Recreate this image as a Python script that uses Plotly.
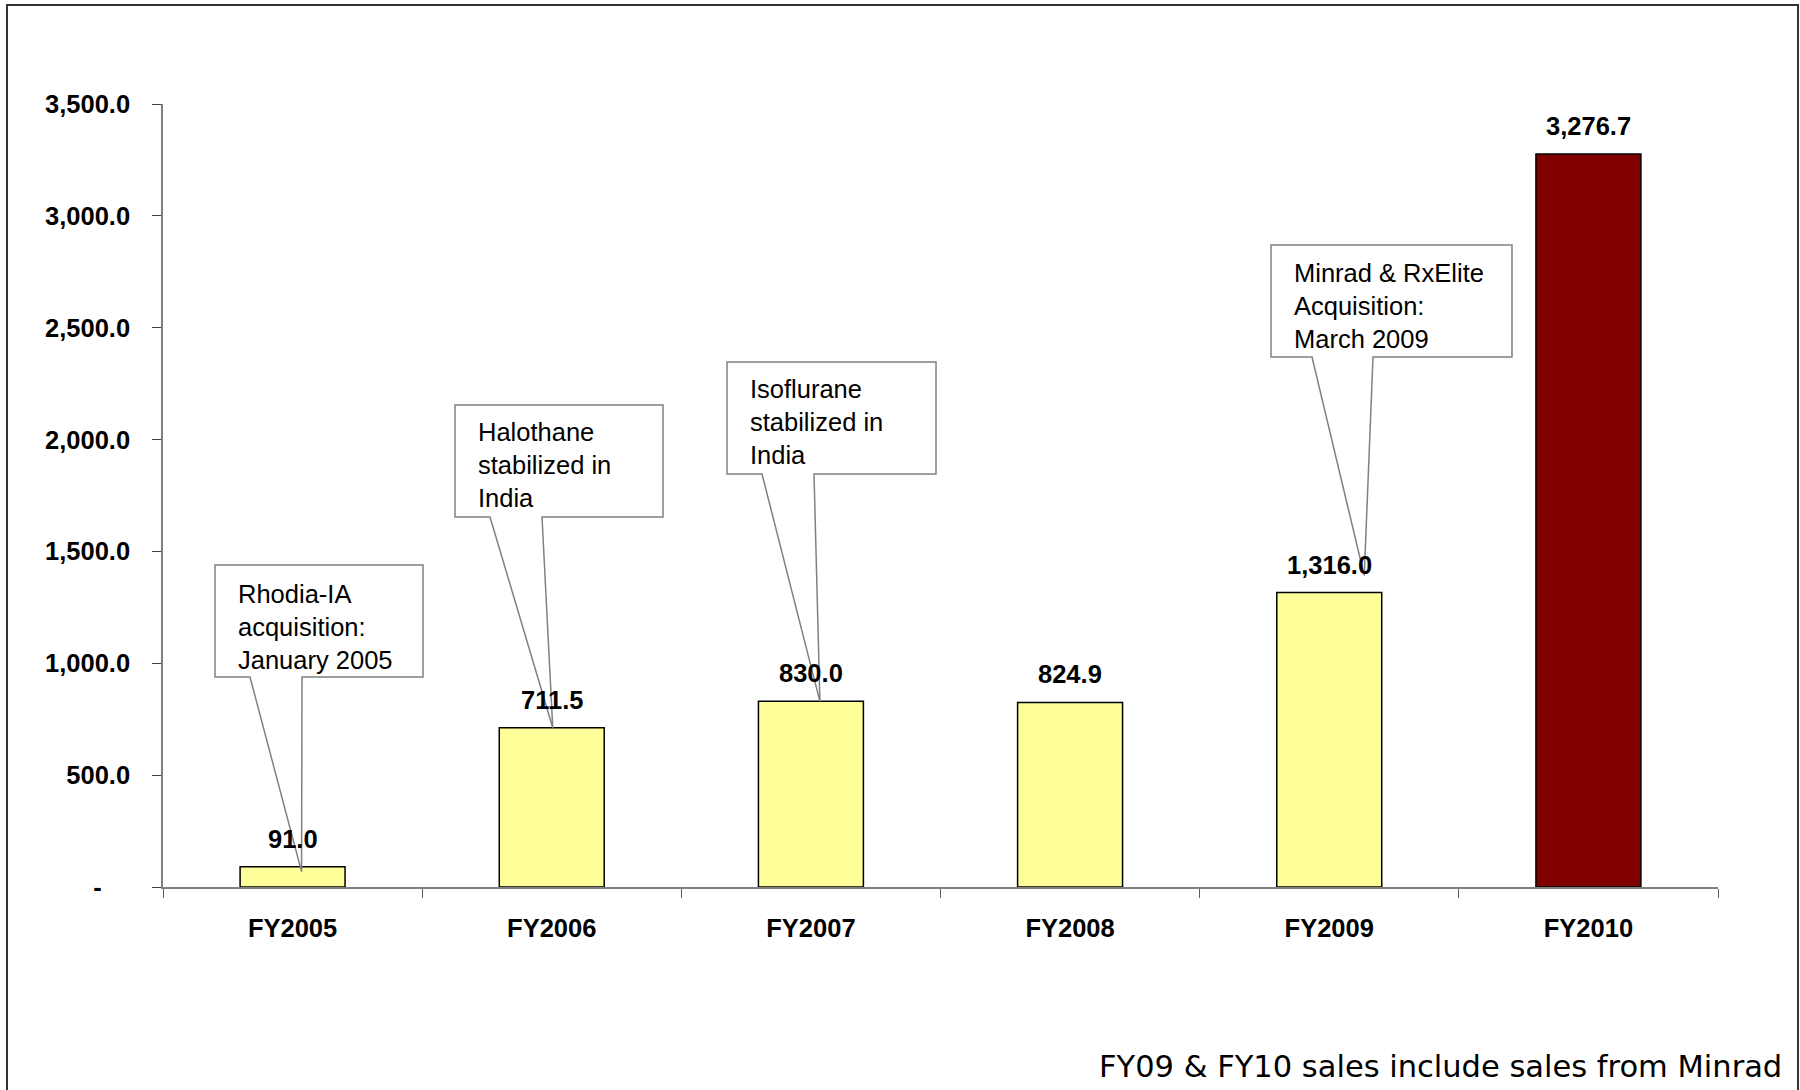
import plotly.graph_objects as go

# ---------------- data ----------------
categories = ["FY2005", "FY2006", "FY2007", "FY2008", "FY2009", "FY2010"]
sales = [91.0, 711.5, 830.0, 824.9, 1316.0, 3276.7]
bar_colors = ["#FFFF99", "#FFFF99", "#FFFF99", "#FFFF99", "#FFFF99", "#800000"]
y_tickvals = [0, 500, 1000, 1500, 2000, 2500, 3000, 3500]
y_ticktext = ["-\u00a0\u00a0\u00a0\u00a0"] + [f"{v:,.1f}" for v in y_tickvals[1:]]
callout_texts = [
    "Rhodia-IA<br>acquisition:<br>January 2005",
    "Halothane<br>stabilized in<br>India",
    "Isoflurane<br>stabilized in<br>India",
    "Minrad &amp; RxElite<br>Acquisition:<br>March 2009",
]
callout_category_index = [0, 1, 2, 4]
footnote = "FY09 &amp; FY10 sales include sales from Minrad"

# ---------------- layout geometry (pixels) ----------------
W, H = 1800, 1090
PL, PR, PT, PB = 163, 1718, 104, 887
YMAX = 3500
NCAT = len(categories)


def px_x(px):
    return (px - PL) / (PR - PL)


def px_y(py):
    return (PB - py) / (PB - PT)


def cat_px(i):
    return PL + (i + 0.5) * (PR - PL) / NCAT


def val_py(v):
    return PB - v / YMAX * (PB - PT)


# callout boxes: left, right, top, bottom, left-leg x, right-leg x (pixels),
# tip offset from the bar top (dx, dy pixels), text left x, text middle y
callout_geom = [
    dict(l=215, r=423, t=565, b=677, ll=250, rl=302, dx=9, dy=5, tx=236, ty=627),
    dict(l=455, r=663, t=405, b=517, ll=490, rl=542, dx=1, dy=0, tx=476, ty=465),
    dict(l=727, r=936, t=362, b=474, ll=762, rl=814, dx=9, dy=0, tx=748, ty=422),
    dict(l=1271, r=1512, t=245, b=357, ll=1312, rl=1373, dx=35, dy=-17, tx=1292, ty=306),
]

FONT = "Liberation Sans, Arial, sans-serif"

fig = go.Figure()
fig.add_trace(go.Bar(
    x=categories,
    y=sales,
    width=0.405,
    marker=dict(color=bar_colors, line=dict(color="black", width=1.5)),
    hoverinfo="skip",
))

annotations = []
for c, v in zip(categories, sales):
    annotations.append(dict(
        x=c, y=v, xref="x", yref="y", text=f"{v:,.1f}", showarrow=False,
        yanchor="bottom", yshift=12,
        font=dict(family=FONT, size=25.5, color="black", weight="bold"),
    ))

shapes = []
for text, ci, g in zip(callout_texts, callout_category_index, callout_geom):
    tipx = cat_px(ci) + g["dx"]
    tipy = val_py(sales[ci]) + g["dy"]
    pts = [
        (g["l"], g["t"]), (g["r"], g["t"]), (g["r"], g["b"]), (g["rl"], g["b"]),
        (tipx, tipy), (g["ll"], g["b"]), (g["l"], g["b"]),
    ]
    path = "M " + " L ".join(f"{px_x(a):.5f},{px_y(b):.5f}" for a, b in pts) + " Z"
    shapes.append(dict(
        type="path", path=path, xref="paper", yref="paper",
        fillcolor="white", line=dict(color="#808080", width=1.5), layer="above",
    ))
    annotations.append(dict(
        x=px_x(g["tx"]), y=px_y(g["ty"]), xref="paper", yref="paper",
        text=text, showarrow=False, align="left", xanchor="left", yanchor="middle",
        font=dict(family=FONT, size=25.5, color="black"),
    ))

# outer frame
shapes.append(dict(
    type="rect", xref="paper", yref="paper",
    x0=px_x(7), x1=px_x(1798), y0=px_y(1100), y1=px_y(5),
    line=dict(color="#333333", width=2), fillcolor="rgba(0,0,0,0)", layer="below",
))

annotations.append(dict(
    x=px_x(1784), y=px_y(1086), xref="paper", yref="paper",
    text=footnote, showarrow=False, xanchor="right", yanchor="bottom",
    font=dict(family="DejaVu Sans, Verdana, sans-serif", size=30.5, color="black"),
))

fig.update_layout(
    width=W, height=H,
    margin=dict(l=PL, r=W - PR, t=PT, b=H - PB, pad=0),
    paper_bgcolor="white", plot_bgcolor="white",
    showlegend=False,
    shapes=shapes,
    annotations=annotations,
    xaxis=dict(
        type="category", range=[-0.5, NCAT - 0.5],
        showline=True, linecolor="#808080", linewidth=1.5,
        ticks="outside", tickson="boundaries", ticklen=9, tickcolor="#606060", tickwidth=1.2,
        showgrid=False, zeroline=False, layer="below traces",
        tickfont=dict(family=FONT, size=25.5, color="black", weight="bold"),
        ticklabelstandoff=18,
    ),
    yaxis=dict(
        range=[0, YMAX], tickmode="array", tickvals=y_tickvals, ticktext=y_ticktext,
        showline=True, linecolor="#808080", linewidth=1.5,
        ticks="outside", ticklen=9, tickcolor="#404040", tickwidth=1.2,
        showgrid=False, zeroline=False, layer="below traces",
        tickfont=dict(family=FONT, size=25.5, color="black", weight="bold"),
        ticklabelstandoff=17,
    ),
)

fig.write_html(
    "out.html",
    config={"displayModeBar": False},
    post_script="document.body.style.margin='0';document.body.style.overflow='hidden';",
)
